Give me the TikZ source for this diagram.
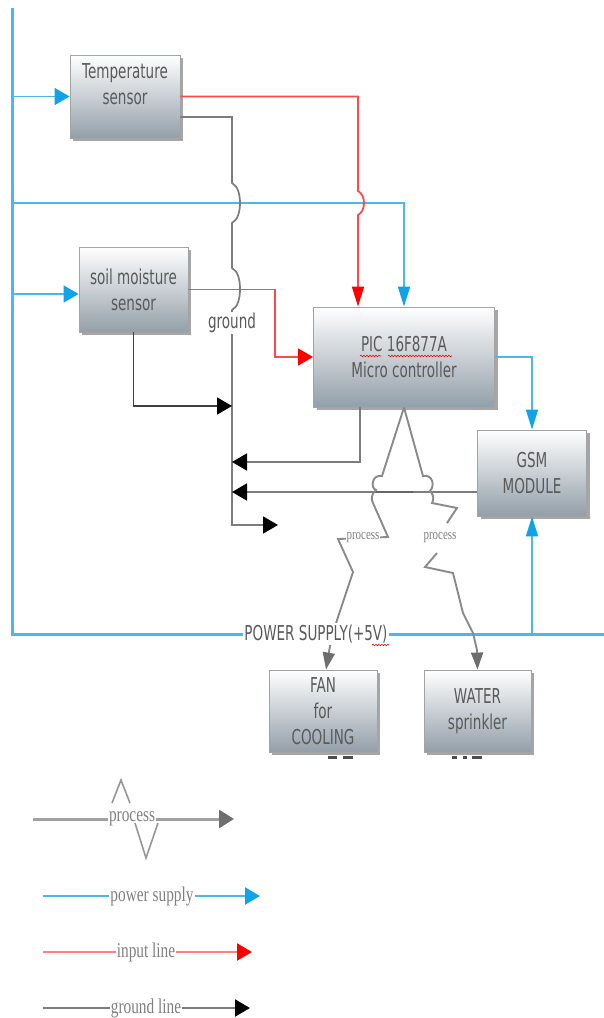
\documentclass[tikz,border=0pt]{standalone}
\usepackage{fontspec}
\usetikzlibrary{arrows.meta,shadows,decorations.pathmorphing,calc}
\newfontfamily\diagfont[FakeStretch=0.66]{DejaVu Sans}
\newfontfamily\legfont[FakeStretch=0.73]{Liberation Serif}
\definecolor{pblue}{HTML}{4DB6EA}
\definecolor{ablue}{HTML}{12A2E8}
\definecolor{pred}{HTML}{FF4A4A}
\definecolor{ared}{HTML}{FF0000}
\definecolor{gline}{HTML}{7C7C7C}
\definecolor{boxbot}{HTML}{939FA9}
\definecolor{boxdraw}{HTML}{A3A3A3}
\definecolor{txt}{HTML}{5A5A5A}
\definecolor{procl}{HTML}{8A8A8A}
\definecolor{proca}{HTML}{6E6E6E}
\definecolor{legtxt}{HTML}{808080}
\begin{document}
\begin{tikzpicture}[x=1pt,y=-1pt,
  box/.style={draw=boxdraw,line width=0.9pt,top color=white,bottom color=boxbot,
    drop shadow={shadow xshift=3pt,shadow yshift=-3pt,opacity=0.35,fill=black},
    inner sep=0pt,align=center,text=txt,font=\diagfont\fontsize{20.5}{26}\selectfont},
  boxtext/.style={inner sep=0pt,align=center,text=txt,font=\diagfont\fontsize{20.5}{26}\selectfont},
  bluethick/.style={draw=pblue,line width=3pt},
  blueline/.style={draw=pblue,line width=1.8pt},
  redline/.style={draw=pred,line width=1.8pt},
  gndline/.style={draw=gline,line width=1.7pt},
  procline/.style={draw=procl,line width=1.9pt},
  tipbh/.style={-{Triangle[length=15pt,width=17pt,color=ablue]}},
  tipbv/.style={-{Triangle[length=20pt,width=12pt,color=ablue]}},
  tiprh/.style={-{Triangle[length=15pt,width=17pt,color=ared]}},
  tiprv/.style={-{Triangle[length=20pt,width=12pt,color=ared]}},
  tipkh/.style={-{Triangle[length=15pt,width=17pt,color=black]}},
  tippv/.style={-{Triangle[length=17pt,width=12pt,color=proca]}},
  tipph/.style={-{Triangle[length=15pt,width=18pt,color=proca]}},
  lbl/.style={fill=white,inner sep=1.5pt,text=txt,font=\diagfont\fontsize{20.5}{24}\selectfont},
  proclbl/.style={fill=white,inner sep=0.6pt,text=legtxt,font=\legfont\fontsize{15}{16}\selectfont},
  leglbl/.style={fill=white,inner sep=1pt,text=legtxt,font=\legfont\fontsize{21}{22}\selectfont},
  wavy/.style={draw=red,line width=0.6pt,decorate,decoration={snake,amplitude=0.8pt,segment length=3pt}}
]
\useasboundingbox (0,0) rectangle (604,1018);

% boxes
\node[box,minimum width=110pt,minimum height=83pt] (temp) at (125,96.5) {};
\node[boxtext] (templbl) at ([yshift=12pt]temp.center) {Temperature\\sensor};
\node[box,minimum width=109pt,minimum height=85pt] (soil) at (133.5,289.5) {soil moisture\\sensor};
\node[box,minimum width=181pt,minimum height=100pt] (pic) at (404,357) {PIC 16F877A\\Micro controller};
\node[box,minimum width=109pt,minimum height=86pt] (gsm) at (532,473) {GSM\\MODULE};
\node[box,minimum width=108pt,minimum height=82pt] (fan) at (323,711) {FAN\\for\\COOLING};
\node[box,minimum width=107pt,minimum height=82pt] (water) at (477.5,711) {WATER\\sprinkler};

% coordinates
\coordinate (Ltop) at (12,8);
\coordinate (Lbot) at (12,634);
\coordinate (Rbot) at (604,634);
\coordinate (b1) at (12,203);
\coordinate (rx) at (358,0);
\coordinate (g1) at (232,406);
\coordinate (g2) at (232,462);
\coordinate (g3) at (232,492);
\coordinate (g4) at (278,525);

% power supply lines
\draw[bluethick] (Ltop) -- (Lbot) -- (Rbot);
\draw[blueline,tipbh] (Ltop |- temp.west) -- (temp.west);
\draw[blueline,tipbh] (12,294) -- (soil.west |- 0,294);
\draw[blueline,tipbv] (b1) -| (pic.north);
\draw[blueline,tipbv] (pic.east) -| (gsm.north);
\draw[blueline,tipbv] (gsm.south |- Lbot) -- (gsm.south);

% input lines
\draw[redline,tiprv] (temp.east) -- (358,96.5) -- (358,191)
  .. controls (366,195) and (366,211) .. (358,215) -- (rx |- pic.north);
\draw[redline,tiprh] (soil.east) -- (275,289.5) |- (pic.west);

% ground lines
\draw[gndline,tipkh] ([yshift=-20.5pt]temp.east) -- (232,117) -- (232,183)
  .. controls (238,186) and (240,195) .. (240,203)
  .. controls (240,211) and (238,220) .. (232,223) -- (232,268)
  .. controls (238,271) and (240,280) .. (240,289)
  .. controls (240,298) and (238,307) .. (232,310) -- (232,525) -- (g4);
\node[lbl] (gnd) at (232,323) {ground};
\draw[gndline,draw=black!75,tipkh] (soil.south) |- (g1);
\draw[gndline,tipkh] ([xshift=-44pt]pic.south) |- (g2);
\draw[gndline,tipkh] (gsm.west |- 0,492) -- (g3);
\draw[draw=black!60,line width=2.6pt] (373,492) -- (413,492);

% process lines
\draw[procline,tippv] (pic.south) -- (382,476)
  .. controls (372,474) and (370,488) .. (376,490)
  .. controls (371,494) and (371,500) .. (373,503)
  -- (388,537) -- (338,539) -- (353,572) -- (337,620) -- (330,646) -- ([xshift=3pt]fan.north);
\node[proclbl] (pl1) at (363,538) {process};
\draw[procline] (pic.south) -- (423,476)
  .. controls (433,474) and (435,486) .. (430,491)
  .. controls (434,495) and (434,500) .. (432,503)
  -- (457,508) -- (447,523);
\draw[procline,tippv] (437,553) -- (425,567) -- (453,573) -- (463,613) -- (473,633) -- (477,650) -- (water.north);
\node[proclbl] (pl2) at (440,538) {process};

% power supply label
\node[lbl] (ps) at (316,634) {POWER SUPPLY(+5V)};

% spell-check underlines
\draw[wavy] (360,356) -- (381,356);
\draw[wavy] (388,356) -- (452,356);
\draw[wavy] (372,645) -- (389,645);

% cut-off marks below boxes
\fill[black!70] (328,756) rectangle (337,759);
\fill[black!70] (343,756) rectangle (353,759);
\fill[black!70] (452,756) rectangle (457,759);
\fill[black!70] (463,756) rectangle (467,759);
\fill[black!70] (472,756) rectangle (482,759);

% legend
\coordinate (lp1) at (33,819); \coordinate (lp2) at (234,819);
\draw[draw=procl!80,line width=3pt,tipph] (lp1) -- (lp2);
\node[leglbl] (lpt) at (132,819) {process};
\draw[draw=procl!90,line width=1.6pt] (112,803) -- (121,780) -- (130,803);
\draw[draw=procl!90,line width=1.6pt] (135,823) -- (146,858) -- (158,823);

\coordinate (lb1) at (43,896); \coordinate (lb2) at (260,896);
\draw[blueline,line width=2.2pt,tipbh] (lb1) -- (lb2);
\node[leglbl] (lbt) at (152,896) {power supply};

\coordinate (lr1) at (43,952); \coordinate (lr2) at (252,952);
\draw[draw=pred!70,line width=2.2pt,tiprh] (lr1) -- (lr2);
\node[leglbl] (lrt) at (146,952) {input line};

\coordinate (lg1) at (43,1008); \coordinate (lg2) at (250,1008);
\draw[gndline,line width=2.2pt,tipkh] (lg1) -- (lg2);
\node[leglbl] (lgt) at (146,1008) {ground line};
\end{tikzpicture}
\end{document}
